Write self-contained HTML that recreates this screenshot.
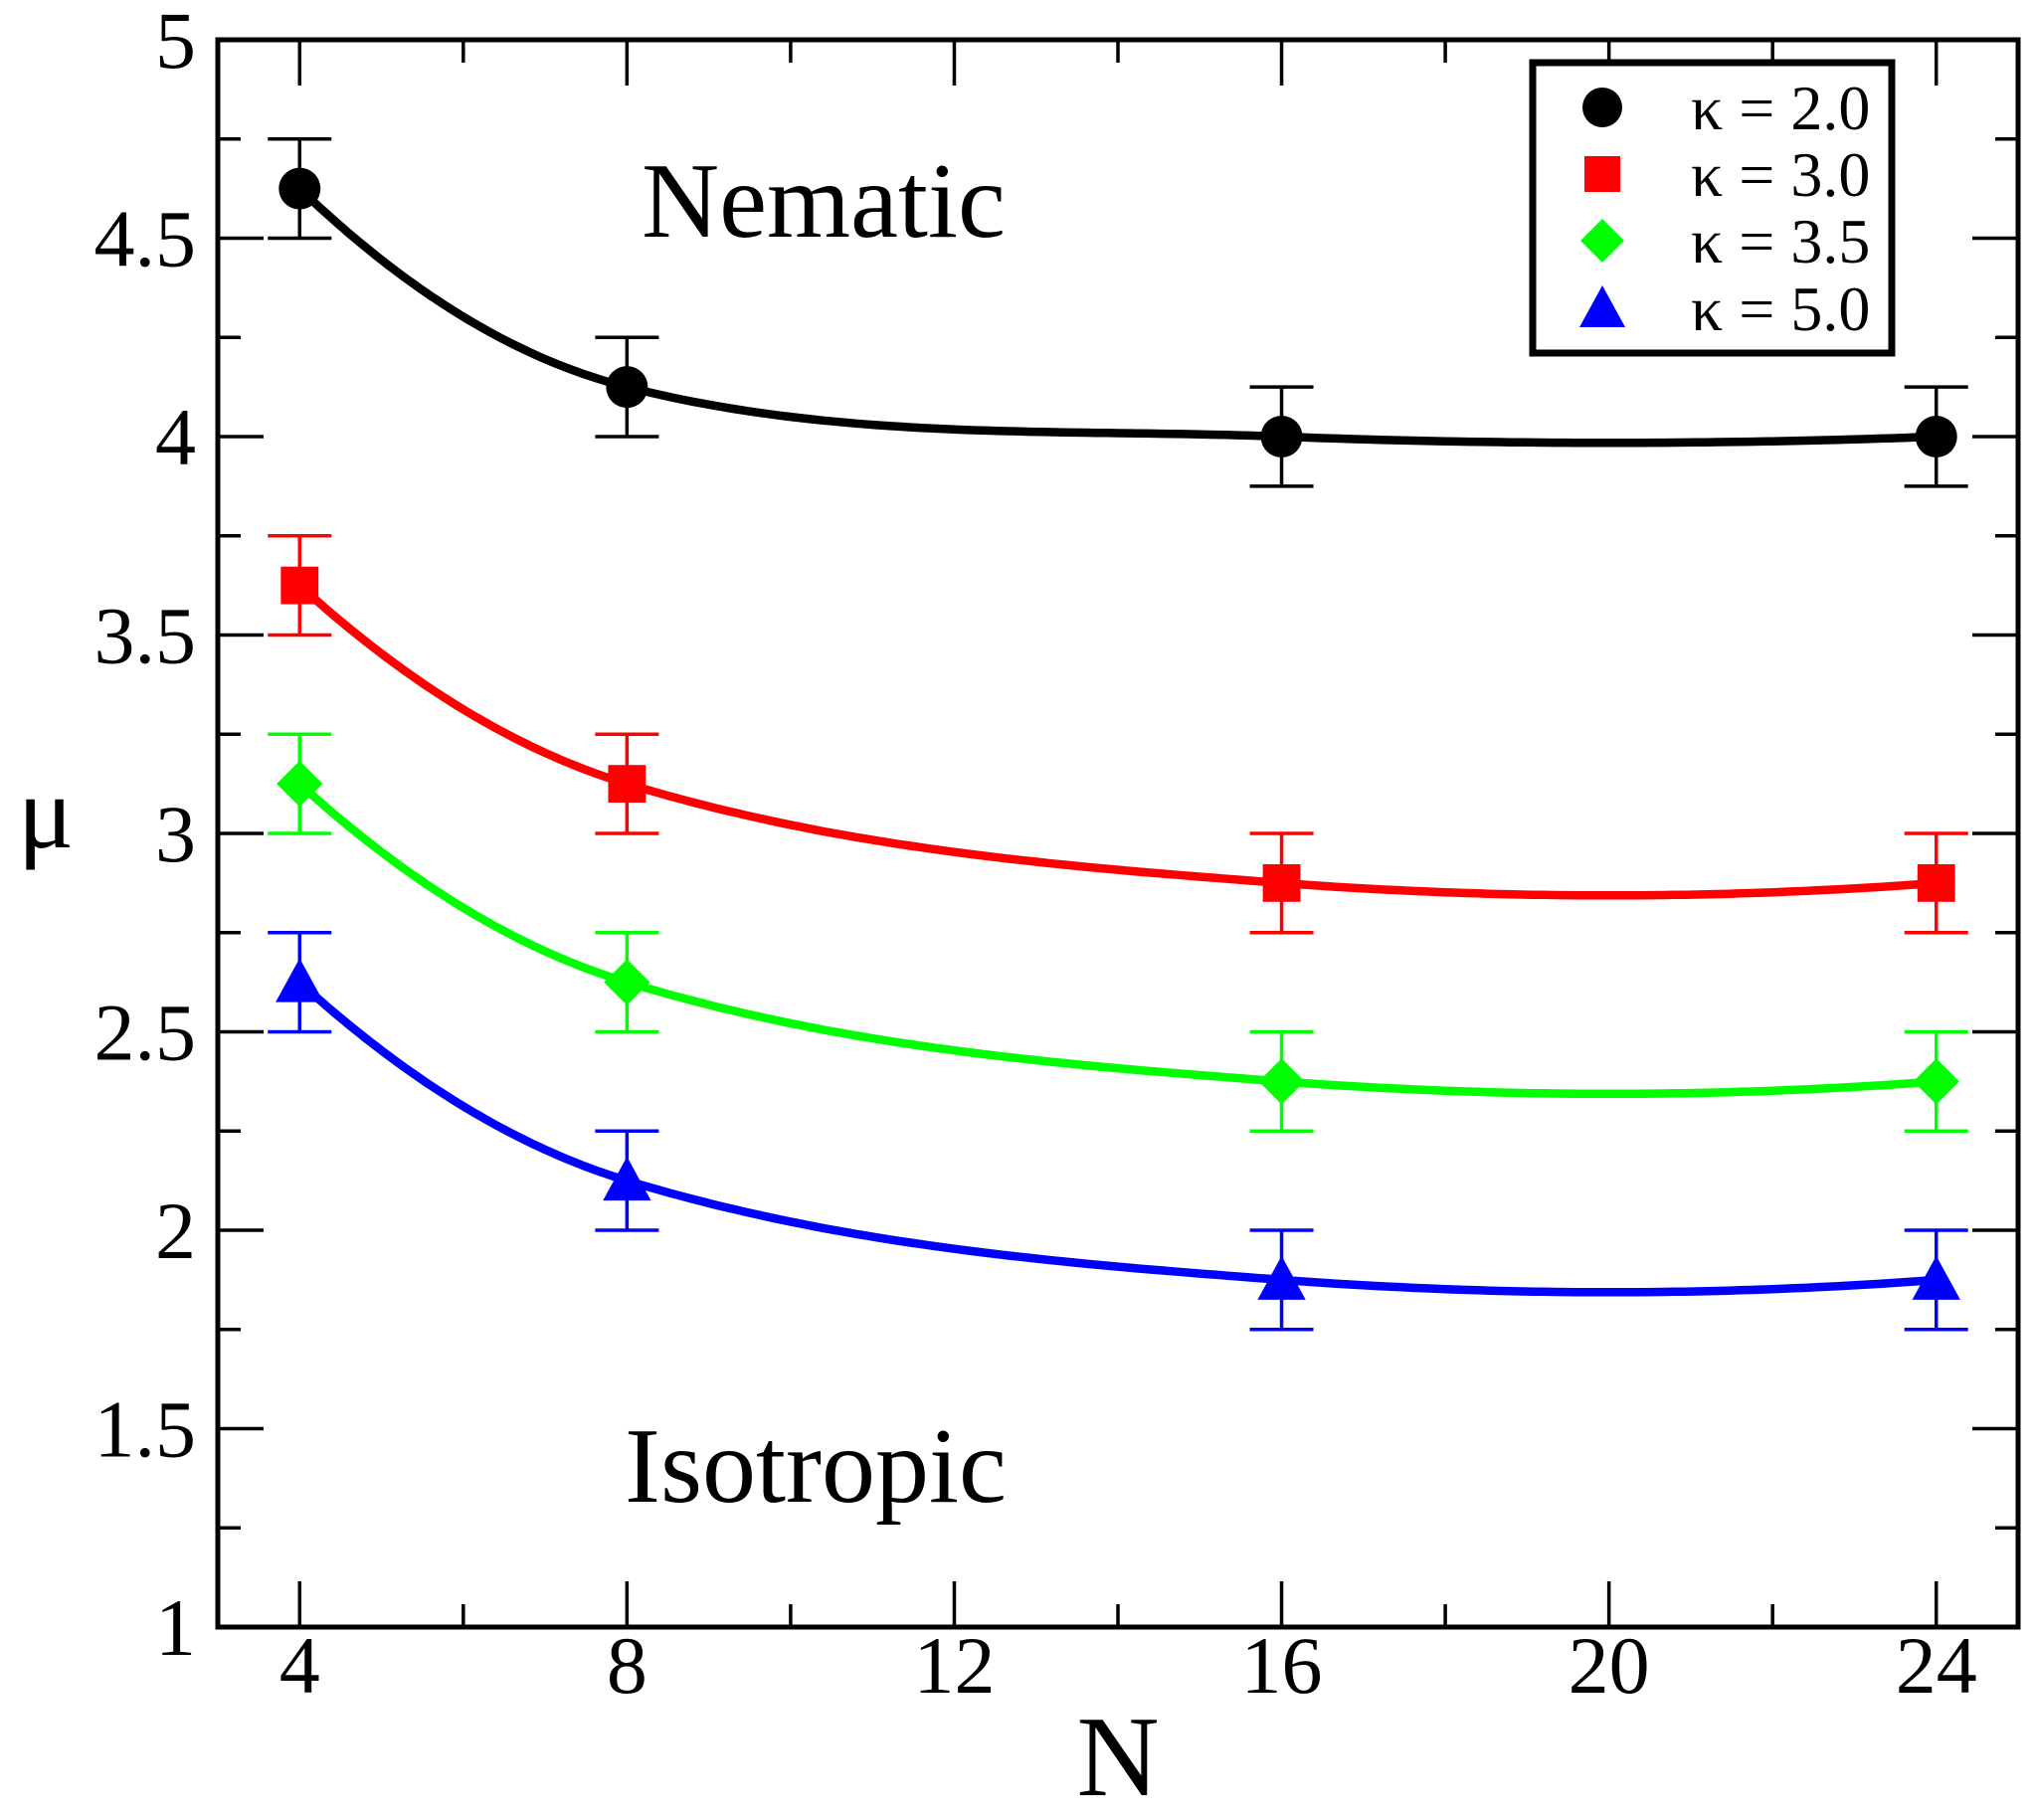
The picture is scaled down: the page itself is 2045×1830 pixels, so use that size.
<!DOCTYPE html>
<html><head><meta charset="utf-8"><style>
html,body{margin:0;padding:0;background:#fff;}
svg{display:block;font-family:"Liberation Serif",serif;}
</style></head><body>
<svg id="chart" width="2045" height="1830" viewBox="0 0 2045 1830" xmlns="http://www.w3.org/2000/svg">
</svg>
<script>
const xValues = [4, 8, 16, 24];
const seriesBlack = [4.625, 4.125, 4.0, 4.0];
const seriesRed = [3.625, 3.125, 2.875, 2.875];
const seriesGreen = [3.125, 2.625, 2.375, 2.375];
const seriesBlue = [2.625, 2.125, 1.875, 1.875];
const errBlack = [0.125, 0.125, 0.125, 0.125];
const errRed = [0.125, 0.125, 0.125, 0.125];
const errGreen = [0.125, 0.125, 0.125, 0.125];
const errBlue = [0.125, 0.125, 0.125, 0.125];
const seriesLabels = ["κ = 2.0", "κ = 3.0", "κ = 3.5", "κ = 5.0"];
const xTickLabels = ["4", "8", "12", "16", "20", "24"];
const yTickLabels = ["1", "1.5", "2", "2.5", "3", "3.5", "4", "4.5", "5"];

const L=219, R=2029, T=40, B=1636;
const xMin=3, xMax=25, yMin=1, yMax=5;
const sx = v => L + (v-xMin)/(xMax-xMin)*(R-L);
const sy = v => B - (v-yMin)/(yMax-yMin)*(B-T);
const svg = document.getElementById('chart');
const NS = 'http://www.w3.org/2000/svg';
function mk(tag, attrs, parent){const e=document.createElementNS(NS,tag);for(const k in attrs)e.setAttribute(k,attrs[k]);(parent||svg).appendChild(e);return e;}

const frame = mk('rect',{x:L,y:T,width:R-L,height:B-T,fill:'none',stroke:'#000','stroke-width':5});



for(let v=4; v<=24; v+=2){
  const major = (v%4===0);
  const len = major?46:23;
  const x=sx(v);
  const t1=mk('line',{x1:x,y1:B,x2:x,y2:B-len,stroke:'#000','stroke-width':3.5});
  
  
  const t2=mk('line',{x1:x,y1:T,x2:x,y2:T+len,stroke:'#000','stroke-width':3.5});
  
  
}
xTickLabels.forEach(s=>{
  const t=mk('text',{x:sx(+s),y:1702,'font-size':82,'text-anchor':'middle'});
  t.textContent=s;
  
  
});
for(let i=0;i<=16;i++){
  const v=1+i*0.25;
  const major=(i%2===0);
  const len=major?46:23;
  const y=sy(v);
  const t1=mk('line',{x1:L,y1:y,x2:L+len,y2:y,stroke:'#000','stroke-width':3.5});
  
  
  const t2=mk('line',{x1:R,y1:y,x2:R-len,y2:y,stroke:'#000','stroke-width':3.5});
  
  
}
yTickLabels.forEach(s=>{
  const t=mk('text',{x:197,y:sy(+s)+28,'font-size':82,'text-anchor':'end'});
  t.textContent=s;
  
  
});
const xt=mk('text',{x:1124,y:1805,'font-size':115,'text-anchor':'middle'});
xt.textContent='N';


const yt=mk('text',{x:46,y:852,'font-size':105,'text-anchor':'middle'});
yt.textContent='μ';


const n1=mk('text',{x:828,y:238,'font-size':108,'text-anchor':'middle'});
n1.textContent='Nematic';


const n2=mk('text',{x:820,y:1510,'font-size':108,'text-anchor':'middle'});
n2.textContent='Isotropic';



function slopes(xs, ys){
  const n=xs.length, m=new Array(n);
  for(let i=1;i<n-1;i++) m[i]=(ys[i+1]-ys[i-1])/(xs[i+1]-xs[i-1]);
  m[0]=2*(ys[1]-ys[0])/(xs[1]-xs[0])-m[1];
  m[n-1]=2*(ys[n-1]-ys[n-2])/(xs[n-1]-xs[n-2])-m[n-2];
  return m;
}
function hermitePath(xs, ys){
  const m=slopes(xs,ys);
  let d='';
  for(let i=0;i<xs.length-1;i++){
    const h=xs[i+1]-xs[i];
    for(let k=(i?1:0);k<=60;k++){
      const t=k/60, t2=t*t, t3=t2*t;
      const y=(2*t3-3*t2+1)*ys[i]+(t3-2*t2+t)*h*m[i]+(-2*t3+3*t2)*ys[i+1]+(t3-t2)*h*m[i+1];
      const x=xs[i]+t*h;
      d+=(d?'L':'M')+sx(x).toFixed(1)+','+sy(y).toFixed(1);
    }
  }
  return d;
}
const colors=['#000000','#ff0000','#00ff00','#0000ff'];
const allSeries=[seriesBlack,seriesRed,seriesGreen,seriesBlue];
const allErr=[errBlack,errRed,errGreen,errBlue];
const shapes=['circle','square','diamond','triangle'];
function marker(shape,cx,cy,col,r,parent){
  if(shape==='circle') return mk('circle',{cx:cx,cy:cy,r:r,fill:col},parent);
  if(shape==='square') return mk('rect',{x:cx-r*0.9,y:cy-r*0.9,width:r*1.8,height:r*1.8,fill:col},parent);
  if(shape==='diamond') return mk('polygon',{points:`${cx},${cy-r*1.1} ${cx+r*1.1},${cy} ${cx},${cy+r*1.1} ${cx-r*1.1},${cy}`,fill:col},parent);
  return mk('polygon',{points:`${cx},${cy-r*1.15} ${cx+r*1.15},${cy+r*0.95} ${cx-r*1.15},${cy+r*0.95}`,fill:col},parent);
}
allSeries.forEach((ys,si)=>{
  const col=colors[si];
  const g=mk('g',{});
  
  
  const p=mk('path',{d:hermitePath(xValues,ys),fill:'none',stroke:col,'stroke-width':8.5,'stroke-linejoin':'round'},g);
  
  
  ys.forEach((v,i)=>{
    const x=sx(xValues[i]), e=allErr[si][i];
    const eb=mk('path',{d:`M${x},${sy(v+e)}L${x},${sy(v-e)}M${x-32},${sy(v+e)}L${x+32},${sy(v+e)}M${x-32},${sy(v-e)}L${x+32},${sy(v-e)}`,stroke:col,'stroke-width':3.5,fill:'none'},g);
    
    
    const m=marker(shapes[si],x,sy(v),col,21,g);
    
    
  });
});
const lg=mk('g',{});


const lb=mk('rect',{x:1541,y:63,width:361,height:292,fill:'#fff',stroke:'#000','stroke-width':7},lg);


const rowsY=[108,175,242,310];
seriesLabels.forEach((s,i)=>{
  const m=marker(shapes[i],1611,rowsY[i],colors[i],20,lg);
  
  
  const t=mk('text',{x:1700,y:rowsY[i]+22,'font-size':64},lg);
  t.textContent=s;
  
  
});
</script>
</body></html>
